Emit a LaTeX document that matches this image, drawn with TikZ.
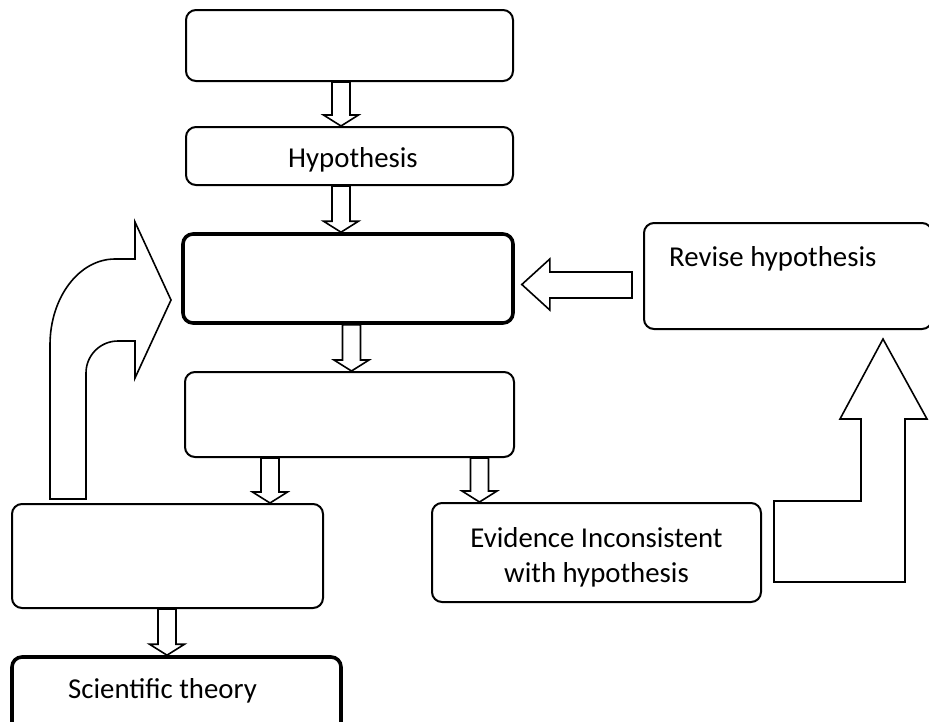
\documentclass[tikz,border=0pt]{standalone}
\usepackage{fontspec}
\setmainfont{Carlito}
\usetikzlibrary{calc}
\tikzset{
  box/.style={draw, line width=2pt, rounded corners=10pt, inner sep=0pt, fill=white},
  thickbox/.style={box, line width=3.6pt},
  barrow/.style={draw, line width=1.6pt, fill=white, line join=miter},
  lbl/.style={inner sep=0pt, font=\fontsize{28.8}{34}\selectfont},
}
% down block arrow: #1 = x (px), #2 = start node anchor, #3 = tip node anchor
\newcommand\bdown[3]{%
  \draw[barrow] let \p1=(#2), \p2=(#3) in
    (#1pt-9pt,\y1) -- (#1pt-9pt,\y2+11pt) -- (#1pt-17.5pt,\y2+11pt) --
    (#1pt,\y2) -- (#1pt+17.5pt,\y2+11pt) -- (#1pt+9pt,\y2+11pt) --
    (#1pt+9pt,\y1) -- cycle;}
\begin{document}
\begin{tikzpicture}[x=1pt,y=-1pt]
\useasboundingbox (0,0) rectangle (929,721);
\clip (0,0) rectangle (929,721);
% boxes
\node[box, minimum width=327pt, minimum height=71pt] (b1) at (349.5,45.5) {};
\node[box, minimum width=327pt, minimum height=58pt] (b2) at (349.5,156) {};
\node[thickbox, minimum width=330pt, minimum height=89pt] (b3) at (348,278.5) {};
\node[box, minimum width=329pt, minimum height=85pt] (b4) at (349.5,414.5) {};
\node[box, minimum width=311pt, minimum height=104pt] (b5) at (167.5,556) {};
\node[box, minimum width=329pt, minimum height=99pt] (b6) at (596.5,552.5) {};
\node[thickbox, minimum width=329pt, minimum height=78pt] (b7) at (176.5,696) {};
\node[box, minimum width=288pt, minimum height=106pt] (b8) at (788,276) {};
% texts
\node[lbl, anchor=base] (t2) at (353,167) {Hypothesis};
\node[lbl, anchor=base west] (t8) at (669,266) {Revise hypothesis};
\node[lbl, anchor=base] (t6a) at (596.5,547) {Evidence Inconsistent};
\node[lbl, anchor=base] (t6b) at (596.5,582) {with hypothesis};
\node[lbl, anchor=base west] (t7) at (68,698) {Scientific theory};
% down arrows
\bdown{341}{b1.south}{b2.north}
\bdown{341}{b2.south}{b3.north}
\bdown{351.5}{b3.south}{b4.north}
\bdown{270}{b4.south}{b5.north}
\bdown{479.5}{b4.south}{b6.north}
\bdown{167}{b5.south}{b7.north}
% left arrow from revise box to b3
\draw[barrow] let \p1=(b3.east), \p2=(b8.west) in
  (\x2-11pt,-272pt) -- (\x1+35pt,-272pt) -- (\x1+35pt,-259pt) --
  (\x1+7pt,-284.5pt) -- (\x1+35pt,-310pt) -- (\x1+35pt,-298pt) --
  (\x2-11pt,-298pt) -- cycle;
% up bent arrow toward revise box
\draw[barrow] (774,501) -- (861,501) -- (861,419) -- (840,419) -- (883,339)
  -- (927,419) -- (905,419) -- (905,582) -- (774,582) -- cycle;
% curved arrow on the left
\draw[barrow] (50,499) -- (50,345) .. controls (50,297.5) and (79,259) .. (115,259)
  -- (135,259) -- (135,222) -- (171,300) -- (135,378) -- (135,341) -- (118,341)
  .. controls (100.3,341) and (86,355.3) .. (86,373) -- (86,499) -- cycle;
\end{tikzpicture}
\end{document}
